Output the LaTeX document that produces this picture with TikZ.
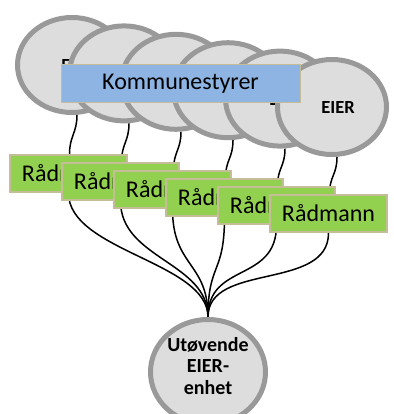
\documentclass[tikz,border=0pt]{standalone}
\usepackage{fontspec}
\setmainfont{Carlito}
\usetikzlibrary{shapes.geometric}
\pgfdeclarelayer{background}
\pgfsetlayers{background,main}
\definecolor{ownerfill}{HTML}{DDDDDD}
\definecolor{ownerline}{HTML}{999999}
\definecolor{boardfill}{HTML}{8DB4E2}
\definecolor{mgrfill}{HTML}{92D050}
\definecolor{tanline}{HTML}{C4BD97}
\begin{document}
\begin{tikzpicture}[x=1pt,y=-1pt,
  owner/.style={ellipse, draw=ownerline, fill=ownerfill, line width=5pt,
    minimum width=109pt, minimum height=95pt, inner sep=0pt},
  ownertext/.style={font=\bfseries\fontsize{18.5}{20}\selectfont, inner sep=0pt},
  board/.style={rectangle, draw=tanline, fill=boardfill, line width=1pt,
    minimum width=239pt, minimum height=38pt, inner sep=0pt,
    font=\fontsize{24}{26}\selectfont},
  mgr/.style={rectangle, draw=tanline, fill=mgrfill, line width=2pt,
    minimum width=117pt, minimum height=37pt, inner sep=0pt,
    font=\fontsize{24}{26}\selectfont},
  unit/.style={ellipse, draw=ownerline, fill=ownerfill, line width=5pt,
    minimum width=115pt, minimum height=105pt, inner sep=0pt},
  unittext/.style={align=center, inner sep=0pt,
    font=\bfseries\fontsize{20}{21.5}\selectfont},
  wire/.style={draw=black, line width=1.5pt}]
\useasboundingbox (0,0) rectangle (393,414);

% owner circles, each one partly hidden by the next
\foreach \i in {1,...,6} {
  \pgfmathsetmacro{\cx}{72+52*(\i-1)}
  \pgfmathsetmacro{\cy}{65+8.4*(\i-1)}
  \node[owner] (e\i) at (\cx,\cy) {};
  \node[ownertext] (t\i) at (\cx+6,\cy+1) {EIER};
}

% municipal council bar
\node[board] (k) at (180.5,84) {Kommunestyrer};

% managers
\foreach \i in {1,...,6} {
  \pgfmathsetmacro{\bx}{68.5+52*(\i-1)}
  \pgfmathsetmacro{\by}{173.5+8*(\i-1)}
  \node[mgr] (r\i) at (\bx,\by) {Rådmann};
}

% executing owner unit
\node[unit] (u) at (208,372) {};
\node[unittext] (ut) at (208,366) {Utøvende\\EIER-\\enhet};

% wiring behind the shapes
\begin{pgfonlayer}{background}
  \foreach \i in {1,...,6} {
    \draw[wire] ([xshift=5pt]e\i.south) .. controls +(0,18) and +(0,-18) .. ([xshift=1pt]r\i.north);
    \draw[wire] (r\i.south) .. controls +(0,58) and +(0,-55) .. (u.north);
  }
\end{pgfonlayer}
\end{tikzpicture}
\end{document}
